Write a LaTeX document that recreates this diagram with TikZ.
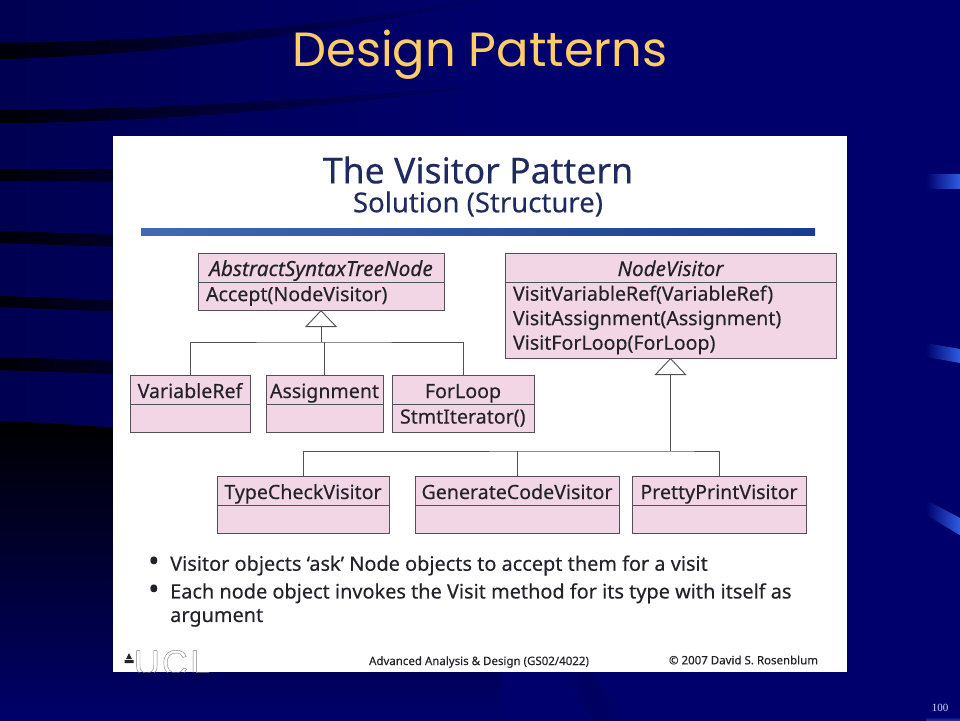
\documentclass[tikz,border=0pt]{standalone}
\usepackage{fontspec}
\setmainfont[FakeBold=0.2]{Noto Sans}
\newfontfamily\headfont{Poppins}
\newfontfamily\pagefont{Liberation Serif}
\newfontfamily\logofont[LetterSpace=6]{Liberation Sans}
\usetikzlibrary{arrows.meta,positioning}
\definecolor{slidenavy}{HTML}{00006C}
\definecolor{slideshade}{HTML}{000052}
\definecolor{streakdark}{HTML}{000008}
\definecolor{glowblue}{HTML}{3366EE}
\definecolor{classpink}{HTML}{F3D6E6}
\definecolor{classline}{HTML}{50505A}
\definecolor{inktext}{HTML}{22222A}
\definecolor{titleink}{HTML}{1F2A60}
\definecolor{barleft}{HTML}{4269B2}
\definecolor{barright}{HTML}{1A3C90}
\tikzset{
	classbox/.style={draw=classline,line width=.9pt,fill=classpink,inner xsep=8pt,inner ysep=0pt,outer sep=0pt,text=inktext,font=\fontsize{19.6}{24.5}\selectfont},
	classhead/.style={classbox,inner xsep=1pt,minimum width=#1,minimum height=29pt,text height=17pt,text depth=0pt},
	classbody/.style={classbox,minimum width=#1,text width=#1-16pt,align=left,minimum height=28pt},
	uml/.style={draw=classline,line width=.9pt},
	inherit/.style={uml,-{Triangle[width=32pt,length=17pt,fill=white,line width=.9pt]}},
	streak/.style={left color=streakdark,right color=slidenavy,draw=none},
	glow/.style={left color=slidenavy,right color=glowblue,draw=none},
	bullet/.style={anchor=west,inner sep=0pt,text=inktext,font=\fontsize{19.9}{23.5}\selectfont,align=left},
	footer/.style={inner sep=0pt,text=inktext,font=\fontsize{11.5}{14}\selectfont}
}
\begin{document}
\begin{tikzpicture}[x=1pt,y=-1pt]
	\useasboundingbox (0,0) rectangle (960,720);
	% slide background
	\fill[slidenavy] (-3,-3) rectangle (963,723);
	\fill[left color=slideshade,right color=slidenavy] (-3,-3) rectangle (500,723);
	\fill[top color=black,bottom color=slidenavy,draw=none] (-3,421) .. controls (120,425) and (300,445) .. (500,470) -- (500,723) -- (-3,723) -- cycle;
	\fill[streak] (0,43) .. controls (150,42) and (300,30) .. (480,0) .. controls (320,35) and (150,55) .. (0,59) -- cycle;
	\fill[streak] (0,110) .. controls (150,110) and (320,100) .. (480,86) .. controls (320,108) and (150,122) .. (0,123) -- cycle;
	\fill[streak] (0,169) -- (400,170) -- (400,182) -- (0,181) -- cycle;
	\fill[streak] (0,231) -- (400,245) -- (400,255) -- (0,243) -- cycle;
	\fill[streak] (0,296) -- (400,312) -- (400,322) -- (0,307) -- cycle;
	\fill[streak] (0,357) -- (400,371) -- (400,383) -- (0,370) -- cycle;
	\fill[left color=slidenavy,right color=slidenavy,middle color=black!12!slidenavy] (560,672) -- (590,672) -- (627,723) -- (597,723) -- cycle;
	\fill[glow] (926,174) rectangle (963,188);
	\fill[glow] (926,343) -- (963,349.5) -- (963,363.5) -- (926,357) -- cycle;
	\fill[glow] (926,500) -- (963,519.5) -- (963,537) -- (926,515) -- cycle;
	\fill[top color=slidenavy,bottom color=glowblue] (926,717) rectangle (963,723);
	\node[text=white!85!blue,font=\pagefont\fontsize{11}{13}\selectfont,inner sep=0pt] (pageno) at (940,708) {100};
	\node[text={rgb,255:red,255;green,204;blue,102},font=\headfont\fontsize{48}{50}\selectfont,inner sep=0pt] (slidetitle) at (480,55) {Design Patterns};
	% white panel
	\fill[white] (113,136) rectangle (847,672);
	\node[text=titleink,font=\fontsize{35.6}{38}\selectfont,inner sep=0pt] (visitor) at (478,170) {The Visitor Pattern};
	\node[text=titleink,font=\fontsize{27.5}{30}\selectfont,inner sep=0pt] (solution) at (478,204) {Solution (Structure)};
	\fill[left color=barleft,right color=barright] (141,228) rectangle (815,235);
	% classes
	\node[classhead=246pt,font=\fontsize{20.8}{24.5}\selectfont\itshape] (ast) at (321,267.5) {AbstractSyntaxTreeNode};
	\node[classbody=246pt,below=0pt of ast] (astb) {Accept(NodeVisitor)};
	\node[classhead=331pt,font=\fontsize{20.6}{24.5}\selectfont\itshape] (nv) at (670.5,267.5) {NodeVisitor};
	\node[classbody=331pt,below=0pt of nv,minimum height=76pt] (nvb) {VisitVariableRef(VariableRef)\\VisitAssignment(Assignment)\\VisitForLoop(ForLoop)};
	\node[classhead=120pt] (var) at (190,389.5) {VariableRef};
	\node[classbody=120pt,below=0pt of var] (varb) {};
	\node[classhead=117pt] (asg) at (324.5,389.5) {Assignment};
	\node[classbody=117pt,below=0pt of asg] (asgb) {};
	\node[classhead=142pt] (fl) at (463,389.5) {ForLoop};
	\node[classbody=142pt,below=0pt of fl] (flb) {StmtIterator()};
	\node[classhead=172pt] (tc) at (303,490.5) {TypeCheckVisitor};
	\node[classbody=172pt,below=0pt of tc] (tcb) {};
	\node[classhead=204pt] (gc) at (517,490.5) {GenerateCodeVisitor};
	\node[classbody=204pt,below=0pt of gc] (gcb) {};
	\node[classhead=174pt] (pp) at (719,490.5) {PrettyPrintVisitor};
	\node[classbody=174pt,below=0pt of pp] (ppb) {};
	% inheritance
	\coordinate (astjoin) at (321,342);
	\coordinate (nvjoin) at (670.5,451);
	\draw[inherit] (astjoin) -- (astb.south);
	\draw[uml] (var.north) |- (astjoin) -| (fl.north);
	\draw[uml] (asg.north) -- (asg.north |- astjoin);
	\draw[inherit] (nvjoin) -- (nvb.south);
	\draw[uml] (tc.north) |- (nvjoin) -| (pp.north);
	\draw[uml] (gc.north) -- (gc.north |- nvjoin);
	% bullets
	\node[bullet,font=\fontsize{30}{30}\selectfont] (dot1) at (148,564) {•};
	\node[bullet] (item1) at (170,565.5) {Visitor objects ‘ask’ Node objects to accept them for a visit};
	\node[bullet,font=\fontsize{30}{30}\selectfont] (dot2) at (148,592) {•};
	\node[bullet] (item2) at (170,605) {Each node object invokes the Visit method for its type with itself as\\argument};
	% footer
	\begin{scope}
		\clip (113,640) rectangle (847,672);
		\node[text=gray,inner sep=0pt,font=\logofont\fontsize{36}{38}\selectfont] (ucl) at (172,663) {\special{pdf:code 1 Tr 0.4 w}UCL\special{pdf:code 0 Tr}};
	\end{scope}
	\fill[inktext] (126,659) -- (129,653) -- (132,659) -- cycle (124.5,660) rectangle (133.5,663);
	\node[footer] (course) at (479,662) {Advanced Analysis \& Design (GS02/4022)};
	\node[footer] (copy) at (743.5,660) {© 2007 David S. Rosenblum};
\end{tikzpicture}
\end{document}
